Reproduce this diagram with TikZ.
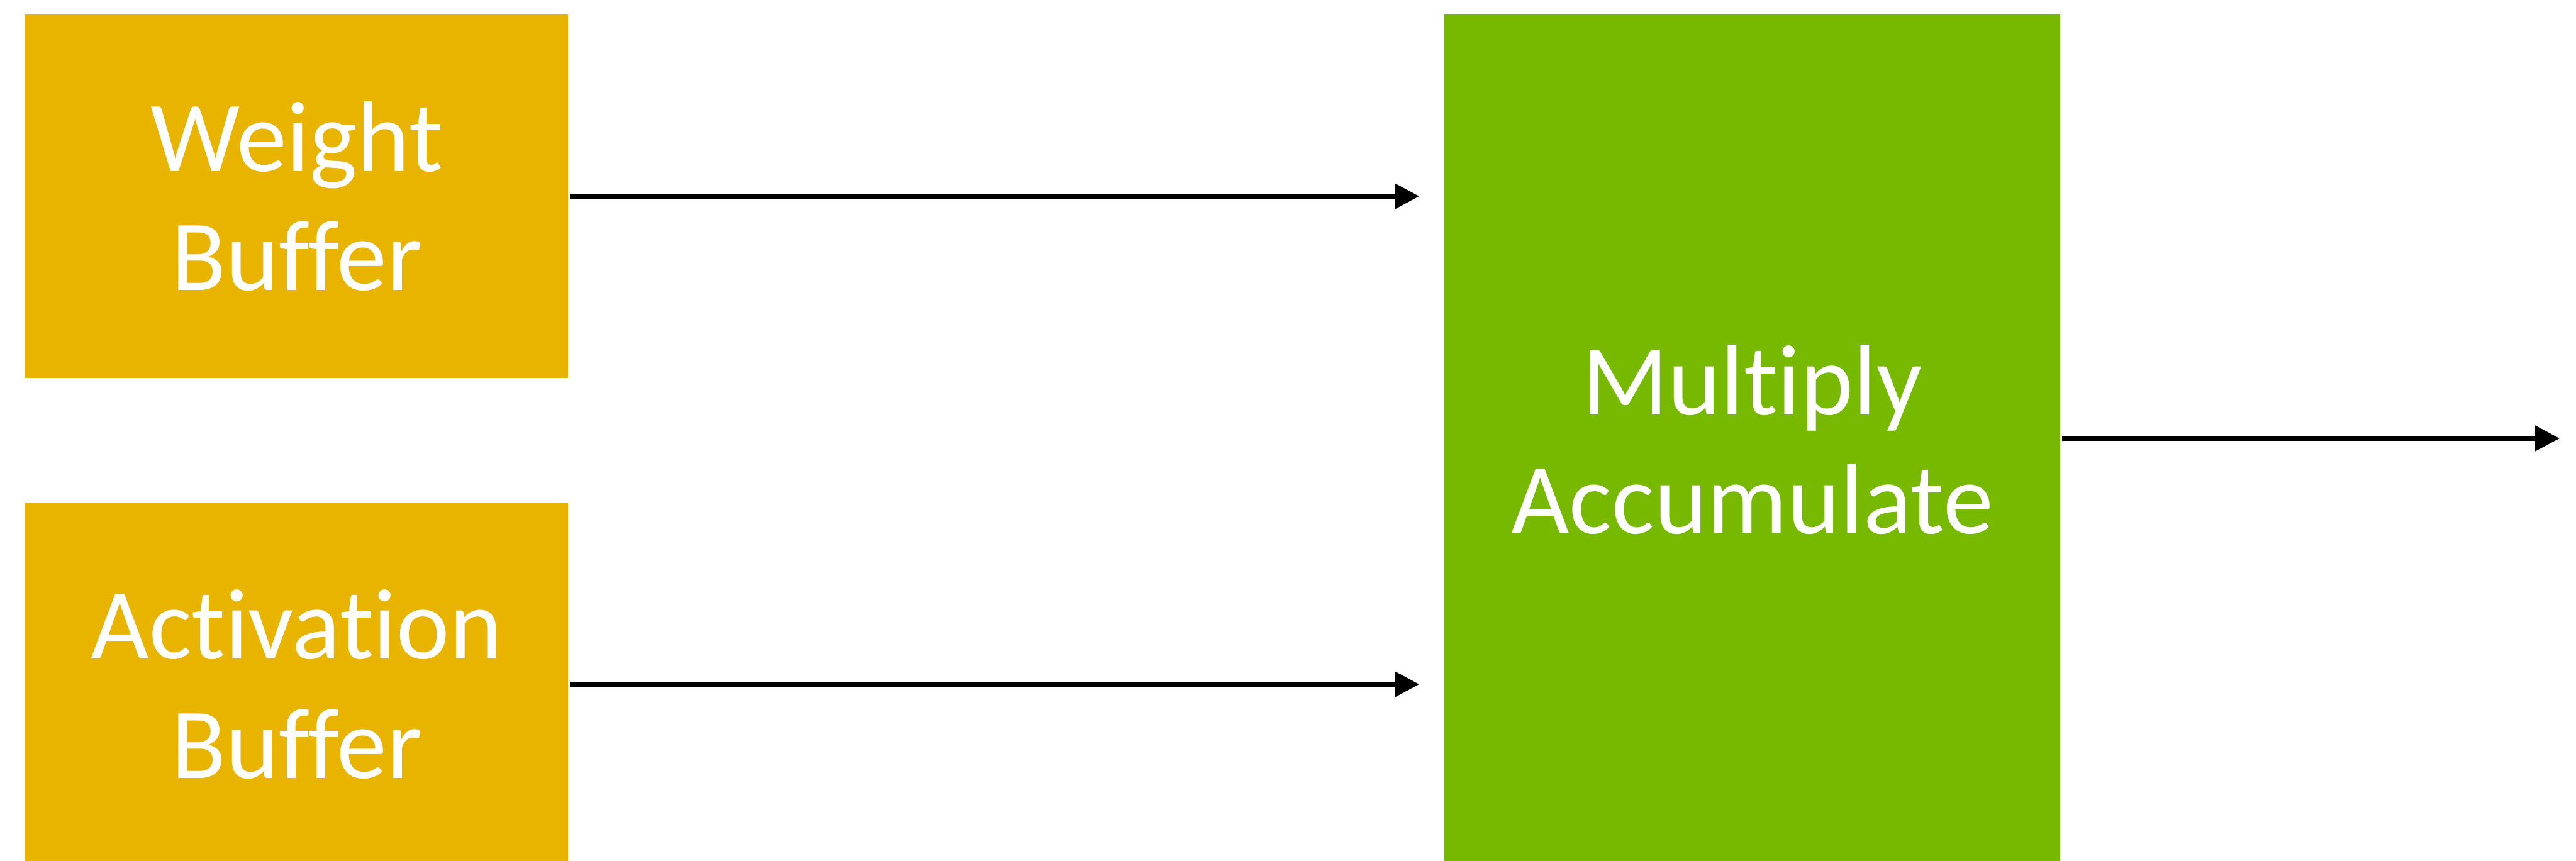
\documentclass[tikz,border=0pt]{standalone}
\usepackage{fontspec}
\setmainfont{Carlito}[Ligatures={NoCommon}]
\usetikzlibrary{arrows.meta}
\definecolor{bufyellow}{RGB}{232,180,0}
\definecolor{macgreen}{RGB}{118,185,0}
\tikzset{
  box/.style={inner sep=0pt, draw=none, text=white, align=center,
    font=\fontsize{45.5}{54}\selectfont},
  bufbox/.style={box, fill=bufyellow, minimum width=8.63cm, minimum height=5.785cm},
  macbox/.style={box, fill=macgreen, minimum width=9.79cm, minimum height=13.52cm},
  arr/.style={line width=0.08cm, -{Triangle[length=0.39cm,width=0.39cm]}}
}
\begin{document}
\begin{tikzpicture}
\useasboundingbox (0,0) rectangle (40.95,-13.69);
\clip (0,0) rectangle (40.95,-13.69);
\node[bufbox] (wb) at (4.715,-3.12) {Weight\\Buffer};
\node[bufbox] (ab) at (4.715,-10.88) {Activation\\Buffer};
\node[macbox] (mac) at (27.855,-6.99) {Multiply\\Accumulate};
\coordinate (out) at (40.69,-6.97);
\draw[arr] ([xshift=0.02cm]wb.east) -- ([xshift=-0.39cm]mac.west |- wb.east);
\draw[arr] ([xshift=0.02cm]ab.east) -- ([xshift=-0.39cm]mac.west |- ab.east);
\draw[arr] ([xshift=0.02cm]mac.east |- out) -- (out);
\end{tikzpicture}
\end{document}
